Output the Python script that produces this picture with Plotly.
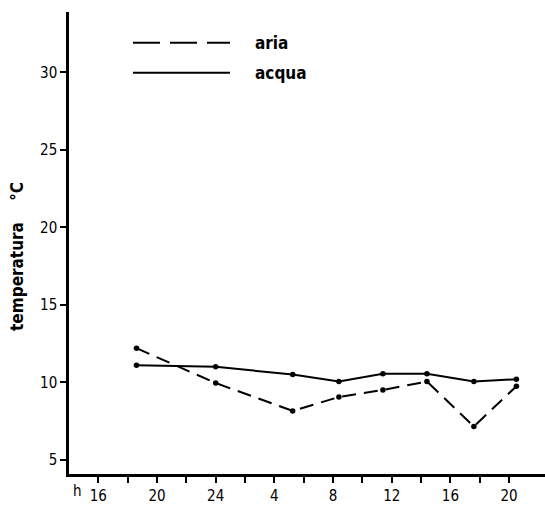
import plotly.graph_objects as go

# Data (hours on a continuous clock: 24 -> midnight, 28 -> 4h next day ...)
hours = [18.6, 24.0, 29.25, 32.4, 35.4, 38.4, 41.6, 44.5]
aria = [12.2, 9.95, 8.15, 9.05, 9.5, 10.05, 7.15, 9.75]
acqua = [11.1, 11.0, 10.5, 10.05, 10.55, 10.55, 10.05, 10.2]

x_tick_vals = [16, 20, 24, 28, 32, 36, 40, 44]
x_tick_text = ["16", "20", "24", "4", "8", "12", "16", "20"]
x_minor_vals = [18, 22, 26, 30, 34, 38, 42]
y_tick_vals = [5, 10, 15, 20, 25, 30]

FONT = "DejaVu Sans Condensed, Liberation Sans Narrow, DejaVu Sans, sans-serif"

all_vals = sorted(x_tick_vals + x_minor_vals)
all_text = [x_tick_text[x_tick_vals.index(v)] if v in x_tick_vals else "" for v in all_vals]

fig = go.Figure()
fig.add_trace(go.Scatter(
    x=hours, y=aria, mode="lines+markers", name="aria",
    line=dict(color="black", width=2, dash="14px,8px"),
    marker=dict(color="black", size=5.5),
))
fig.add_trace(go.Scatter(
    x=hours, y=acqua, mode="lines+markers", name="acqua",
    line=dict(color="black", width=2),
    marker=dict(color="black", size=5.5),
))

W, H = 545, 505
ml, mr, mt, mb = 69, 0, 12, 29
pw, ph = W - ml - mr, H - mt - mb

def px(xp):
    return (xp - ml) / pw

def py(yp):
    return (H - mb - yp) / ph

shapes = [
    dict(type="line", xref="paper", yref="paper", x0=px(133), x1=px(230), y0=py(43), y1=py(43),
         line=dict(color="black", width=2, dash="27px,10px")),
    dict(type="line", xref="paper", yref="paper", x0=px(133), x1=px(230), y0=py(73), y1=py(73),
         line=dict(color="black", width=2)),
]

annotations = [
    dict(text="<b>aria</b>", xref="paper", yref="paper", x=px(253), y=py(43), xanchor="left",
         yanchor="middle", showarrow=False, font=dict(size=17, color="black", family=FONT)),
    dict(text="<b>acqua</b>", xref="paper", yref="paper", x=px(253), y=py(73), xanchor="left",
         yanchor="middle", showarrow=False, font=dict(size=17, color="black", family=FONT)),
    dict(text="<b>temperatura    °C</b>", xref="paper", yref="paper", x=px(17), y=py(258),
         xanchor="center", yanchor="middle", textangle=-90, showarrow=False,
         font=dict(size=17, color="black", family=FONT)),
    dict(text="h", xref="paper", yref="paper", x=px(77), y=py(493), xanchor="center",
         yanchor="middle", showarrow=False, font=dict(size=15, color="black", family=FONT)),
]

fig.update_layout(
    width=W, height=H,
    margin=dict(l=ml, r=mr, t=mt, b=mb),
    paper_bgcolor="white", plot_bgcolor="white",
    showlegend=False,
    font=dict(family=FONT, color="black", size=15),
    shapes=shapes,
    annotations=annotations,
    xaxis=dict(range=[14, 46.45], tickmode="array", tickvals=all_vals, ticktext=all_text,
               showgrid=False, zeroline=False, showline=True, linecolor="black", linewidth=2.5,
               ticks="outside", ticklen=6, tickwidth=1.5, tickcolor="black",
               tickfont=dict(size=15, family=FONT, color="black")),
    yaxis=dict(range=[4.08, 33.9], tickmode="array", tickvals=y_tick_vals,
               showgrid=False, zeroline=False, showline=True, linecolor="black", linewidth=2.5,
               ticks="outside", ticklen=6, tickwidth=1.5, tickcolor="black",
               tickfont=dict(size=15, family=FONT, color="black")),
)

fig.write_html("out.html", config={"displayModeBar": False},
               post_script="document.body.style.margin='0px';document.body.style.overflow='hidden';")
